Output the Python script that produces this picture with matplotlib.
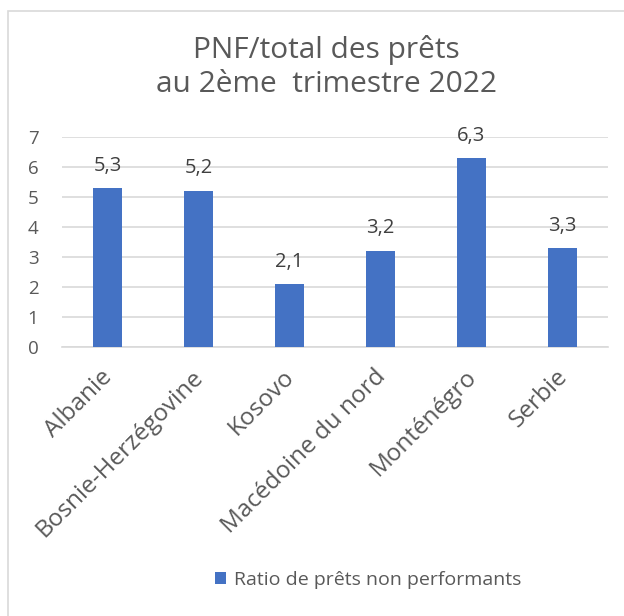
import matplotlib
matplotlib.use("Agg")
import matplotlib.pyplot as plt
import matplotlib.transforms as mtransforms
from matplotlib.patches import Rectangle, Patch

# Données
pays = ["Albanie", "Bosnie-Herzégovine", "Kosovo", "Macédoine du nord", "Monténégro", "Serbie"]
ratios = [5.3, 5.2, 2.1, 3.2, 6.3, 3.3]
etiquettes = ["5,3", "5,2", "2,1", "3,2", "6,3", "3,3"]
yticks = [0, 1, 2, 3, 4, 5, 6, 7]

plt.rcParams['font.family'] = ['Open Sans', 'DejaVu Sans']

bleu = '#4472C4'
gris_texte = '#595959'

fig = plt.figure(figsize=(6.24, 6.16), dpi=100)
ax = fig.add_axes([62 / 624, 1 - 347 / 616, 546 / 624, 210 / 616])

# Cadre du graphique
fig.patches.append(Rectangle((8 / 624, -0.05), 1.0, 1 - 11 / 616 + 0.05,
                             transform=fig.transFigure, fill=False,
                             edgecolor='#D9D9D9', linewidth=1.2))

x = range(len(pays))
bars = ax.bar(x, ratios, width=0.31, color=bleu, zorder=3)

for b, lab in zip(bars, etiquettes):
    ax.annotate(lab, (b.get_x() + b.get_width() / 2, b.get_height()),
                xytext=(0, 9), textcoords='offset points',
                ha='center', va='bottom', fontsize=14.5, color='#404040')

ax.set_xlim(-0.5, len(pays) - 0.5)
ax.set_ylim(0, 7)
ax.set_yticks(yticks)
ax.set_yticklabels([str(v) for v in yticks])
ax.set_xticks(list(x))
ax.set_xticklabels(pays, rotation=45, ha='right', va='top', rotation_mode='anchor')

ax.tick_params(axis='y', length=0, labelsize=13.5, labelcolor=gris_texte, pad=17)
ax.tick_params(axis='x', length=0, labelsize=17.5, labelcolor=gris_texte, pad=13)

# décalage léger des étiquettes vers la gauche
decalage = mtransforms.ScaledTranslation(-7 / 100, 0, fig.dpi_scale_trans)
for t in ax.get_xticklabels():
    t.set_transform(t.get_transform() + decalage)

ax.grid(axis='y', color='#D9D9D9', linewidth=1.2, zorder=0)
for s in ['top', 'right', 'left']:
    ax.spines[s].set_visible(False)
ax.spines['bottom'].set_color('#D9D9D9')
ax.spines['bottom'].set_linewidth(1.2)

fig.text(326 / 624, 1 - 67 / 616, "PNF/total des prêts\nau 2ème  trimestre 2022",
         ha='center', va='center', fontsize=21.5, color=gris_texte, linespacing=1.25)

fig.legend(handles=[Patch(facecolor=bleu)], labels=["Ratio de prêts non performants"],
           loc='center', bbox_to_anchor=(368 / 624, 1 - 580 / 616), frameon=False,
           fontsize=14, labelcolor=gris_texte, handlelength=0.55, handleheight=0.55,
           handletextpad=0.4)

plt.savefig("out.png", dpi=100)
